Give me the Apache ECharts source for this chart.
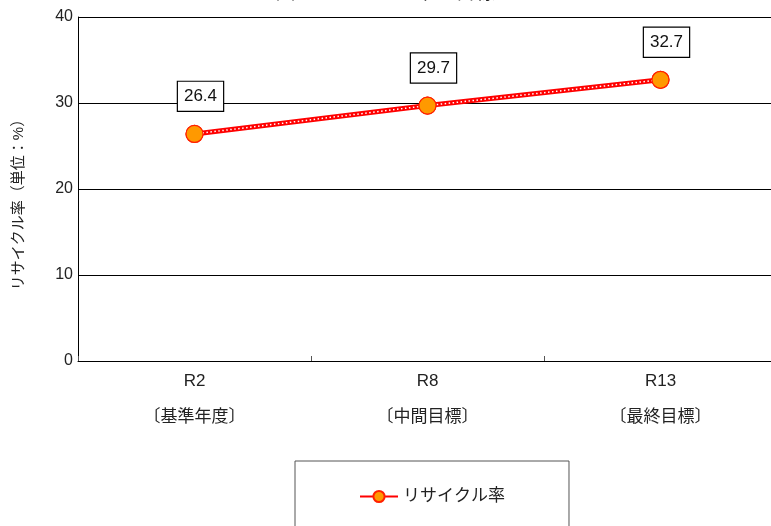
<!DOCTYPE html>
<html>
<head>
<meta charset="utf-8">
<script src="https://cdn.jsdelivr.net/npm/echarts@6/dist/echarts.min.js"></script>
<style>html,body{margin:0;padding:0;background:#fff}#c{width:771px;height:526px}</style>
</head>
<body>
<div id="c"></div>
<script>
const titleText = "図　リサイクル率の目標";
const categories = ["R2\n〔基準年度〕", "R8\n〔中間目標〕", "R13\n〔最終目標〕"];
const seriesName = "リサイクル率";
const recycleRate = [26.4, 29.7, 32.7];
const yTicks = [0, 10, 20, 30, 40];
const yAxisName = "リサイクル率（単位：%）";

const FONT = "'Liberation Sans', 'Noto Sans CJK JP', sans-serif";
const chart = echarts.init(document.getElementById('c'), null, {renderer: 'canvas'});
chart.setOption({
  animation: false,
  backgroundColor: '#fff',
  textStyle: {fontFamily: FONT},
  title: {
    text: titleText, left: 'center', top: -22,
    textStyle: {fontSize: 20, fontWeight: 'normal', color: '#222', fontFamily: FONT}
  },
  grid: {left: 78, top: 17, right: -6, bottom: 165, containLabel: false, outerBoundsMode: 'none'},
  legend: {
    data: [seriesName], left: 295, top: 461,
    padding: [27, 64, 40, 64],
    borderColor: '#555', borderWidth: 1,
    itemWidth: 38, itemHeight: 14, itemGap: 3,
    textStyle: {fontSize: 17, color: '#222', fontFamily: FONT}
  },
  xAxis: {
    type: 'category', data: categories, boundaryGap: true,
    axisLine: {lineStyle: {color: '#000', width: 1}},
    axisTick: {show: true, inside: true, length: 5, lineStyle: {color: '#555'}},
    axisLabel: {fontSize: 17, color: '#222', lineHeight: 36, margin: 2, fontFamily: FONT}
  },
  yAxis: {
    type: 'value', min: yTicks[0], max: yTicks[yTicks.length - 1], interval: 10,
    name: yAxisName, nameLocation: 'middle', nameGap: 52, nameRotate: 90,
    nameTextStyle: {fontSize: 15, color: '#222', fontFamily: FONT, padding: [0, 24, 0, 0]},
    axisLine: {show: true, lineStyle: {color: '#000', width: 1}},
    axisTick: {show: false},
    axisLabel: {fontSize: 16, color: '#222', margin: 5, fontFamily: FONT},
    splitLine: {show: true, lineStyle: {color: '#000', width: 1}}
  },
  series: [
    {
      name: seriesName, type: 'line', data: recycleRate, z: 2,
      lineStyle: {color: '#ff0000', width: 5},
      symbol: 'circle', symbolSize: 17,
      itemStyle: {color: '#ff9900', borderColor: '#ff2000', borderWidth: 1.2}
    },
    {
      name: seriesName + '_overlay', type: 'line', data: recycleRate, z: 3,
      lineStyle: {color: '#ffffff', width: 1.5, type: [1.5, 2.5]},
      symbol: 'circle', symbolSize: 17,
      itemStyle: {color: '#ff9900', borderColor: '#ff2000', borderWidth: 1.2},
      label: {
        show: true, position: 'top', distance: 14, offset: [6, 0],
        fontSize: 17, color: '#111', fontFamily: FONT,
        backgroundColor: '#fff', borderColor: '#000', borderWidth: 1.2,
        padding: [6, 6, 6, 6],
        formatter: p => p.value.toFixed(1)
      }
    }
  ]
});
</script>
</body>
</html>
